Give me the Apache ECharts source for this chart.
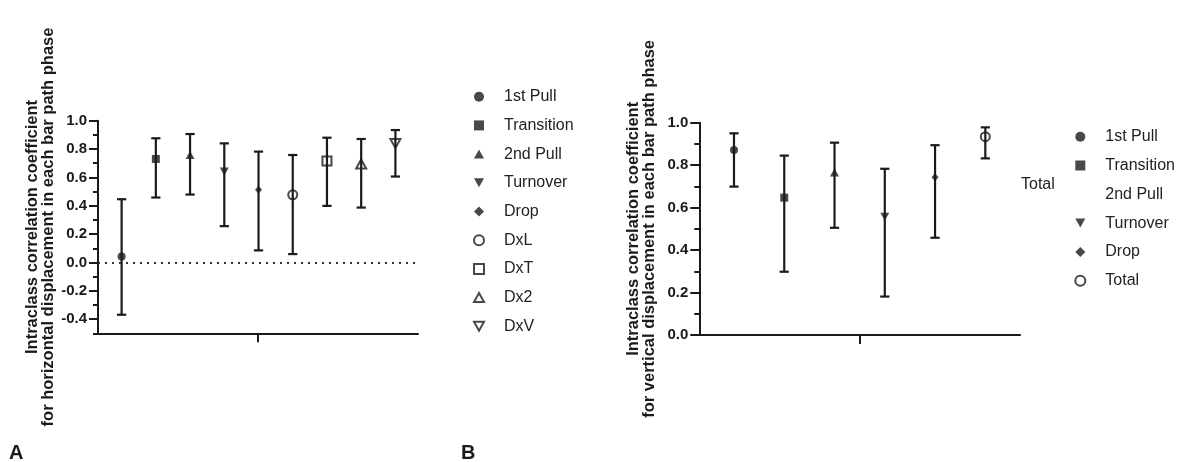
<!DOCTYPE html>
<html>
<head>
<meta charset="utf-8">
<script src="https://cdn.jsdelivr.net/npm/echarts@6/dist/echarts.min.js"></script>
<style>html,body{margin:0;padding:0;background:#fff;}#c{width:1179px;height:462px;}</style>
</head>
<body>
<div id="c"></div>
<script>
// ---- data ----
const phasesA = ['1st Pull','Transition','2nd Pull','Turnover','Drop','DxL','DxT','Dx2','DxV'];
const iccA  = [0.042, 0.730, 0.758, 0.641, 0.512, 0.477, 0.716, 0.695, 0.840];
const lowA  = [-0.369, 0.458, 0.479, 0.256, 0.085, 0.059, 0.399, 0.387, 0.606];
const highA = [0.446, 0.876, 0.906, 0.840, 0.782, 0.758, 0.880, 0.871, 0.934];

const phasesB = ['1st Pull','Transition','2nd Pull','Turnover','Drop','Total'];
const iccB  = [0.871, 0.647, 0.766, 0.557, 0.743, 0.934];
const lowB  = [0.699, 0.298, 0.505, 0.181, 0.458, 0.832];
const highB = [0.950, 0.845, 0.906, 0.783, 0.894, 0.978];

const yTicksA = [-0.4, -0.2, 0.0, 0.2, 0.4, 0.6, 0.8, 1.0];
const yTicksB = [0.0, 0.2, 0.4, 0.6, 0.8, 1.0];

// ---- styles ----
const INK = '#1a1a1a';
const FONT = 'Liberation Sans, Arial, sans-serif';
const DOWN = 'path://M0,0 L10,0 L5,9 Z';
const UP = 'path://M5,0 L10,9 L0,9 Z';
const markerStyle = {
  '1st Pull':   {symbol:'circle',  size:8,  open:false},
  'Transition': {symbol:'rect',    size:8,  open:false},
  '2nd Pull':   {symbol:UP,        size:9,  open:false},
  'Turnover':   {symbol:DOWN,      size:9,  open:false},
  'Drop':       {symbol:'diamond', size:[7,8], open:false},
  'DxL':        {symbol:'circle',  size:9,  open:true},
  'DxT':        {symbol:'rect',    size:9,  open:true},
  'Dx2':        {symbol:UP,        size:10, open:true},
  'DxV':        {symbol:DOWN,      size:10, open:true},
  'Total':      {symbol:'circle',  size:9,  open:true}
};
const openStyle = {color:'rgba(255,255,255,0)', borderColor:INK, borderWidth:2};
const fillStyle = {color:INK, borderWidth:0};

function errRender(params, api) {
  const x = api.value(0);
  const top = api.coord([x, api.value(2)]);
  const bot = api.coord([x, api.value(1)]);
  const w = 4.6;
  const st = {stroke: INK, lineWidth: 2.2};
  return {type:'group', children:[
    {type:'line', shape:{x1:top[0], y1:top[1], x2:bot[0], y2:bot[1]}, style:st},
    {type:'line', shape:{x1:top[0]-w, y1:top[1], x2:top[0]+w, y2:top[1]}, style:st},
    {type:'line', shape:{x1:bot[0]-w, y1:bot[1], x2:bot[0]+w, y2:bot[1]}, style:st}
  ]};
}

function pointSeries(names, vals, gi) {
  return names.map((n, i) => {
    const m = markerStyle[n];
    return {
      type:'scatter', name:n, xAxisIndex: gi*2, yAxisIndex: gi*2,
      data:[[i+1, vals[i]]],
      symbol:m.symbol, symbolSize:m.size, symbolKeepAspect:true,
      itemStyle: m.open ? openStyle : fillStyle,
      z:5, silent:true
    };
  });
}

function legendItems(names, noIcon) {
  return names.map(n => {
    const m = markerStyle[n];
    const item = {name:n, icon:m.symbol, itemStyle: m.open ? openStyle : fillStyle};
    if (noIcon && noIcon.indexOf(n) >= 0) item.icon = 'none';
    return item;
  });
}

const titleStyle = {fontSize:16.5, fontWeight:'bold', color:INK, fontFamily:FONT, lineHeight:16};
const labelStyle = {fontSize:15, fontWeight:'bold', color:INK, fontFamily:FONT};

function yAxesFor(gi, min, ticks, name) {
  return [
    {type:'value', gridIndex:gi, position:'left', offset:0, min:min, max:1.0, interval:0.1,
     axisLine:{show:true, onZero:false, lineStyle:{color:INK, width:2}},
     axisTick:{show:true, length:5, lineStyle:{color:INK, width:2}},
     axisLabel:{show:false}, splitLine:{show:false},
     name:name, nameLocation:'middle', nameRotate:90, nameGap:42, nameTextStyle:titleStyle},
    {type:'value', gridIndex:gi, position:'left', offset:0, min:min, max:1.0,
     axisLine:{show:false, onZero:false},
     axisTick:{show:true, length:9, customValues:ticks, lineStyle:{color:INK, width:2}},
     axisLabel:{show:true, customValues:ticks, margin:11, formatter:v => v.toFixed(1), ...labelStyle},
     splitLine:{show:false}}
  ];
}

function xAxesFor(gi, min, max) {
  return [
    {type:'value', gridIndex:gi, min:min, max:max, show:false},
    {type:'category', gridIndex:gi, data:[''], position:'bottom',
     axisLine:{show:true, onZero:false, lineStyle:{color:INK, width:2}},
     axisTick:{show:true, alignWithLabel:true, length:9, lineStyle:{color:INK, width:2}},
     axisLabel:{show:false}, splitLine:{show:false}}
  ];
}

const legendText = {fontSize:16, lineHeight:16, color:'#222', fontFamily:FONT, padding:[0,0,0,15]};

const option = {
  animation:false,
  backgroundColor:'#fff',
  title:[
    {text:'A', left:9, top:443, padding:0, textStyle:{fontSize:20, fontWeight:'bold', color:INK, fontFamily:FONT}},
    {text:'B', left:461, top:443, padding:0, textStyle:{fontSize:20, fontWeight:'bold', color:INK, fontFamily:FONT}},
    {text:'Total', left:1021, top:177, padding:0, textStyle:{fontSize:16, fontWeight:'normal', color:'#222', fontFamily:FONT}}
  ],
  grid:[
    {left:98, top:120.7, width:320, height:212.6, containLabel:false},
    {left:699.3, top:122.7, width:320.7, height:212.3, containLabel:false}
  ],
  xAxis:[...xAxesFor(0, 0.31, 9.66), ...xAxesFor(1, 0.31, 6.69)],
  yAxis:[
    ...yAxesFor(0, -0.5, yTicksA, 'Intraclass correlation coefficient\nfor horizontal displacement in each bar path phase'),
    ...yAxesFor(1, 0.0, yTicksB, 'Intraclass correlation coefficient\nfor vertical displacement in each bar path phase')
  ],
  legend:[
    {data:legendItems(phasesA), orient:'vertical', left:468, top:83.7, itemWidth:10, itemHeight:10, itemGap:12.7,
     textStyle:legendText, selectedMode:false},
    {data:legendItems(phasesB, ['2nd Pull']),
     orient:'vertical', left:1069.3, top:123.7, itemWidth:10, itemHeight:10, itemGap:12.8,
     textStyle:legendText, selectedMode:false}
  ],
  series:[
    {type:'custom', xAxisIndex:0, yAxisIndex:0, renderItem:errRender, z:3, silent:true,
     data:phasesA.map((p,i) => [i+1, lowA[i], highA[i]]),
     markLine:{silent:true, symbol:'none', label:{show:false},
       lineStyle:{type:[2,5], width:2, color:'#333'}, data:[{yAxis:0}]}},
    ...pointSeries(phasesA, iccA, 0),
    {type:'custom', xAxisIndex:2, yAxisIndex:2, renderItem:errRender, z:3, silent:true,
     data:phasesB.map((p,i) => [i+1, lowB[i], highB[i]])},
    ...pointSeries(phasesB, iccB, 1)
  ]
};

const chart = echarts.init(document.getElementById('c'), null, {renderer:'canvas'});
chart.setOption(option);
</script>
</body>
</html>
